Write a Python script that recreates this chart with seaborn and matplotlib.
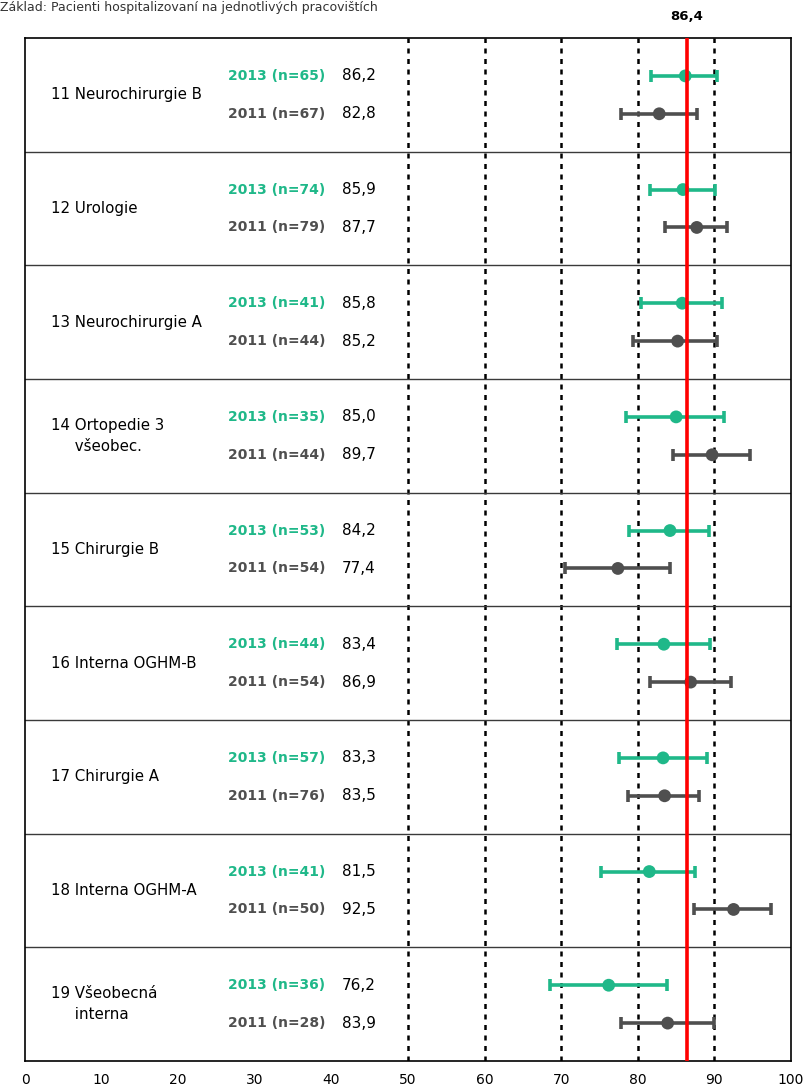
import numpy as np
import pandas as pd
import seaborn as sns
import matplotlib.pyplot as plt

# Data
groups = ['11 Neurochirurgie B', '12 Urologie', '13 Neurochirurgie A',
          '14 Ortopedie 3\n     všeobec.', '15 Chirurgie B', '16 Interna OGHM-B',
          '17 Chirurgie A', '18 Interna OGHM-A', '19 Všeobecná\n     interna']
n_2013 = [65, 74, 41, 35, 53, 44, 57, 41, 36]
n_2011 = [67, 79, 44, 44, 54, 54, 76, 50, 28]
val_2013 = [86.2, 85.9, 85.8, 85.0, 84.2, 83.4, 83.3, 81.5, 76.2]
val_2011 = [82.8, 87.7, 85.2, 89.7, 77.4, 86.9, 83.5, 92.5, 83.9]
low_2013 = [81.7, 81.6, 80.4, 78.5, 78.9, 77.3, 77.5, 75.2, 68.5]
high_2013 = [90.4, 90.1, 91.0, 91.2, 89.3, 89.4, 89.0, 87.5, 83.8]
low_2011 = [77.8, 83.5, 79.4, 84.6, 70.5, 81.6, 78.7, 87.4, 77.8]
high_2011 = [87.7, 91.6, 90.3, 94.7, 84.2, 92.2, 88.0, 97.4, 89.9]
average = 86.4

green = '#1fb889'
grey = '#4f4f4f'

rows = []
for i in range(len(groups)):
    rows.append(dict(y=3 * i + 1, year='2013', n=n_2013[i], value=val_2013[i],
                     low=low_2013[i], high=high_2013[i]))
    rows.append(dict(y=3 * i + 2, year='2011', n=n_2011[i], value=val_2011[i],
                     low=low_2011[i], high=high_2011[i]))
df = pd.DataFrame(rows)

sns.set_style('white')
plt.rcParams['font.family'] = ['DejaVu Sans']
plt.rcParams['text.color'] = 'black'
plt.rcParams['xtick.color'] = 'black'

fig = plt.figure(figsize=(8.06, 10.88), dpi=100)
ax = fig.add_axes([25 / 806, 1 - 1061 / 1088, 766 / 806, 1023 / 1088])

# reference lines
for x in [50, 60, 70, 80, 90]:
    ax.axvline(x, color='black', lw=1.8, ls=(0, (2, 2.2)), zorder=1)
for i in range(1, len(groups)):
    ax.axhline(3 * i, color='#3a3a3a', lw=1.0, zorder=1)

palette = {'2013': green, '2011': grey}
for year, sub in df.groupby('year'):
    ax.errorbar(sub['value'], sub['y'],
                xerr=[sub['value'] - sub['low'], sub['high'] - sub['value']],
                fmt='none', ecolor=palette[year], elinewidth=2.6,
                capsize=4.5, capthick=2.6, zorder=3)
sns.scatterplot(data=df, x='value', y='y', hue='year', palette=palette,
                s=85, edgecolor='none', legend=False, zorder=4, ax=ax)

ax.axvline(average, color='red', lw=2.6, zorder=5)
ax.text(average, 1.015, '86,4', transform=ax.get_xaxis_transform(),
        ha='center', va='bottom', fontsize=9.5, fontweight='bold')

# row labels
for i, g in enumerate(groups):
    ax.text(3.4, 3 * i + 1.5, g, ha='left', va='center', fontsize=10.8,
            linespacing=1.55)
for _, r in df.iterrows():
    ax.text(39.2, r['y'], f"{r['year']} (n={r['n']})", ha='right', va='center',
            fontsize=10, fontweight='bold', color=palette[r['year']])
    ax.text(41.4, r['y'], f"{r['value']:.1f}".replace('.', ','),
            ha='left', va='center', fontsize=11)

ax.set_xlim(0, 100)
ax.set_ylim(3 * len(groups), 0)
ax.set_xticks(np.arange(0, 101, 10))
ax.set_yticks([])
ax.set_xlabel('')
ax.set_ylabel('')
ax.tick_params(axis='x', direction='in', length=5, width=1, labelsize=10, pad=9)
for s in ax.spines.values():
    s.set_color('black')
    s.set_linewidth(1.2)

fig.text(0.0, 1 - 1 / 1088, 'Základ: Pacienti hospitalizovaní na jednotlivých pracovištích',
         ha='left', va='top', fontsize=9, color='#333333')

fig.savefig('out.png', dpi=100)
